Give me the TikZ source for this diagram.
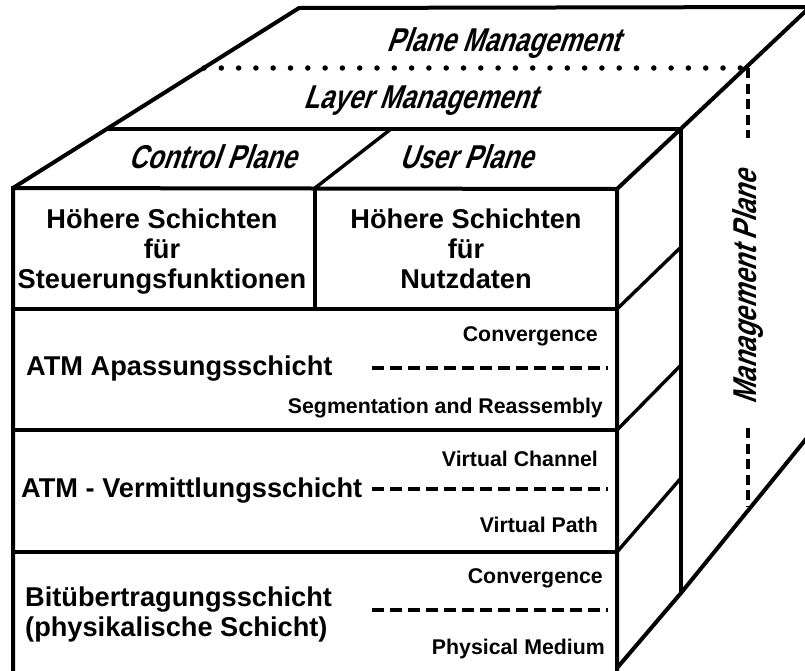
\documentclass[tikz,border=0pt]{standalone}
\usepackage{fontspec}
\setmainfont{Liberation Sans}
\newfontfamily\planefont{Liberation Sans}[FakeStretch=0.78,FakeSlant=0.35]
\begin{document}
\begin{tikzpicture}[x=1pt,y=-1pt,
  edge/.style={line width=4pt, line join=miter},
  inner edge/.style={line width=3.4pt},
  big/.style={font=\bfseries\fontsize{27.2}{30}\selectfont, inner sep=0pt},
  small/.style={font=\bfseries\fontsize{21.3}{24}\selectfont, inner sep=0pt},
  plane/.style={font=\planefont\bfseries\fontsize{33}{36}\selectfont, inner sep=0pt},
  sublayer/.style={line width=4.5pt, dash pattern=on 12pt off 6pt},
  mgmtdots/.style={line width=5.5pt, line cap=round, dash pattern=on 0pt off 17.3pt},
  mgmtdash/.style={line width=4.5pt, dash pattern=on 10pt off 5.5pt}]
\path[use as bounding box] (0,0) rectangle (805,670);
\clip (0,0) rectangle (805,670);

% corner points of the cube
\coordinate (ftl) at (13,188);
\coordinate (ftr) at (617,189);
\coordinate (fbl) at (13,680);
\coordinate (fbr) at (617,668);
\coordinate (btl) at (299,8);
\coordinate (btr) at (810,7);
\coordinate (mtop) at (681,129);
\coordinate (mbot) at (681,593);
\coordinate (obr) at (815,428);

% front face and its layers
\draw[edge] (fbl) -- (ftl) -- (ftr) -- (617,680);
\draw[inner edge] (13,309) -- (617,309);
\draw[inner edge] (13,430) -- (617,430);
\draw[inner edge] (13,552) -- (617,552);
\draw[inner edge] (315,188) -- (315,309);

% top face
\draw[edge] (ftl) -- (btl) -- (btr) -- (ftr);
\draw[inner edge] (107,129) -- (mtop);
\draw[inner edge] (315,188) -- (391,129);
\draw[mgmtdots] (204,68) -- (745,68);

% right face
\draw[edge] (mtop) -- (mbot);
\draw[inner edge] (617,309) -- (681,247);
\draw[inner edge] (617,430) -- (681,365);
\draw[inner edge] (617,552) -- (681,478);
\draw[edge] (fbr) -- (mbot) -- (obr);
\draw[mgmtdash] (748,68) -- (748,138);
\draw[mgmtdash] (748,428) -- (748,507);

% sublayer separators
\draw[sublayer] (372,368) -- (608,368);
\draw[sublayer] (372,489) -- (608,489);
\draw[sublayer] (372,610) -- (608,610);

% plane labels
\node[plane, anchor=base] (pm) at (503,51) {Plane Management};
\node[plane, anchor=base] (lm) at (420,108) {Layer Management};
\node[plane, anchor=base] (cp) at (212,168) {Control Plane};
\node[plane, anchor=base] (up) at (466,168) {User Plane};
\node[plane, rotate=90] (mp) at (748,288) {Management Plane};

% higher layers
\node[big, anchor=base] (hc1) at (162,228) {Höhere Schichten};
\node[big, anchor=base] (hc2) at (162,258) {für};
\node[big, anchor=base] (hc3) at (162,288) {Steuerungsfunktionen};
\node[big, anchor=base] (hu1) at (466,228) {Höhere Schichten};
\node[big, anchor=base] (hu2) at (466,258) {für};
\node[big, anchor=base] (hu3) at (466,288) {Nutzdaten};

% ATM adaptation layer
\node[big, anchor=base west] (aal) at (26,375) {ATM Apassungsschicht};
\node[small, anchor=base east] (cs1) at (598,341) {Convergence};
\node[small, anchor=base east] (sar) at (603,413) {Segmentation and Reassembly};

% ATM layer
\node[big, anchor=base west] (atm) at (21,497) {ATM - Vermittlungsschicht};
\node[small, anchor=base east] (vc) at (598,466) {Virtual Channel};
\node[small, anchor=base east] (vp) at (598,532) {Virtual Path};

% physical layer
\node[big, anchor=base west] (phy1) at (25,606) {Bitübertragungsschicht};
\node[big, anchor=base west] (phy2) at (25,636) {(physikalische Schicht)};
\node[small, anchor=base east] (cs2) at (603,583) {Convergence};
\node[small, anchor=base east] (pmd) at (605,654) {Physical Medium};
\end{tikzpicture}
\end{document}
